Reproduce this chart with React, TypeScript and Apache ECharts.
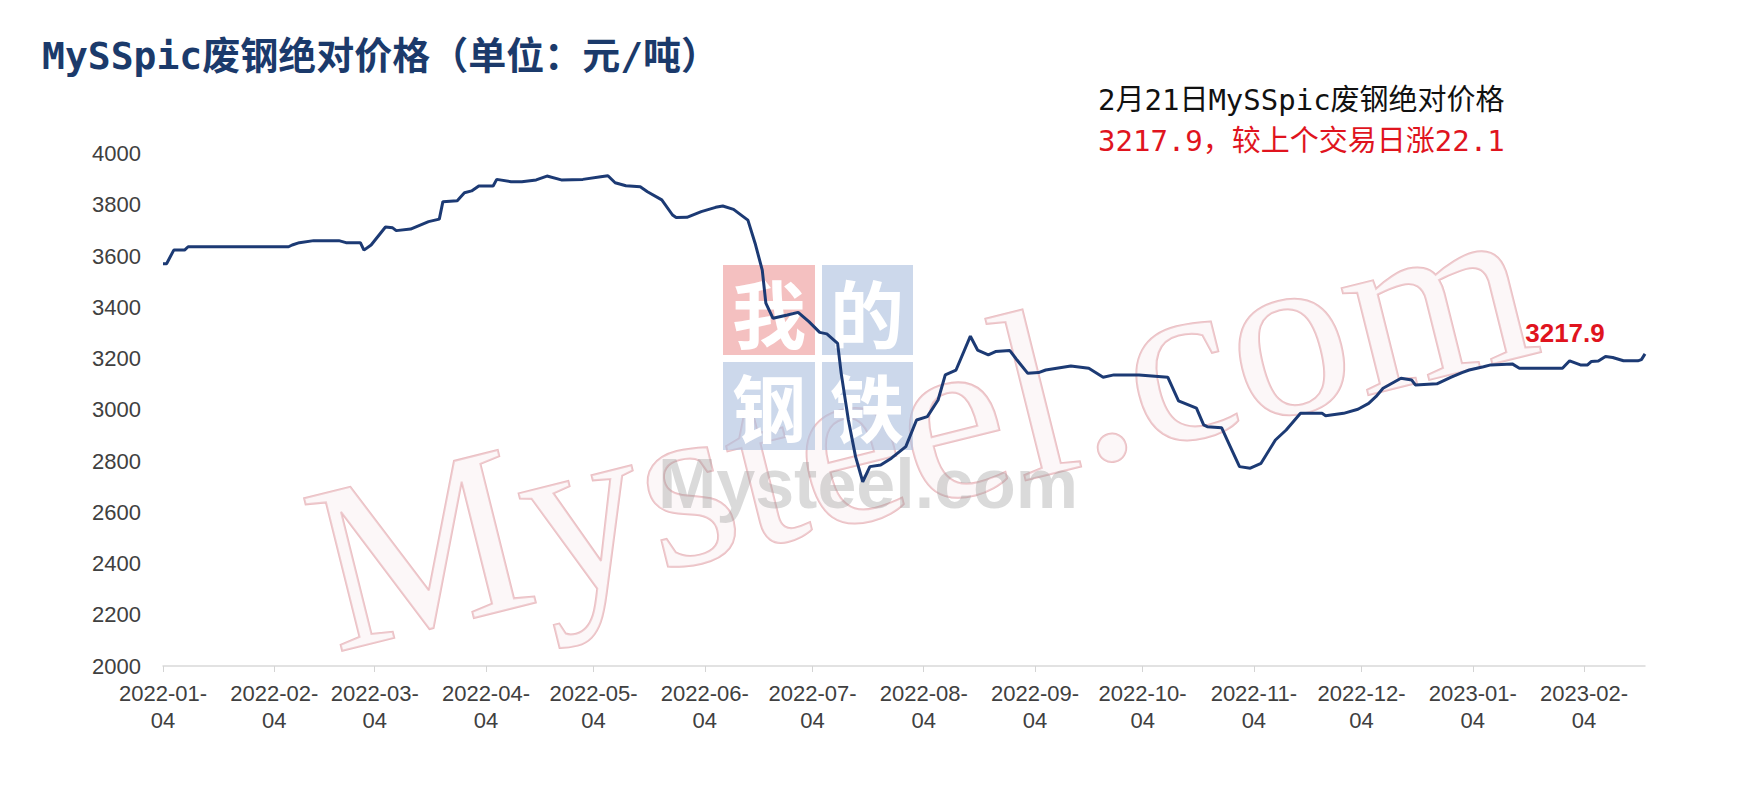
import React, { useEffect, useRef } from "react";
import * as echarts from "echarts";

// ---- data ----
const titleText = "MySSpic废钢绝对价格（单位：元/吨）";
const noteLine1 = "2月21日MySSpic废钢绝对价格";
const noteLine2 = "3217.9，较上个交易日涨22.1";
const lastLabel = "3217.9";

const axisStart = "2022-01-04";
const axisEnd = "2023-02-21";

const yMin = 2000;
const yMax = 4000;
const yStep = 200;

const pointDates = [
  "2022-01-04", "2022-01-05", "2022-01-07", "2022-01-10", "2022-01-11", "2022-02-08", "2022-02-09", "2022-02-11",
  "2022-02-15", "2022-02-22", "2022-02-24", "2022-02-28", "2022-03-01", "2022-03-03", "2022-03-07", "2022-03-09",
  "2022-03-10", "2022-03-14", "2022-03-16", "2022-03-19", "2022-03-22", "2022-03-23", "2022-03-27", "2022-03-29",
  "2022-03-31", "2022-04-02", "2022-04-06", "2022-04-07", "2022-04-11", "2022-04-14", "2022-04-18", "2022-04-21",
  "2022-04-25", "2022-05-01", "2022-05-06", "2022-05-08", "2022-05-10", "2022-05-13", "2022-05-17", "2022-05-19",
  "2022-05-23", "2022-05-26", "2022-05-27", "2022-05-30", "2022-06-03", "2022-06-07", "2022-06-09", "2022-06-12",
  "2022-06-16", "2022-06-18", "2022-06-20", "2022-06-21", "2022-06-23", "2022-06-27", "2022-06-30", "2022-07-03",
  "2022-07-06", "2022-07-08", "2022-07-11", "2022-07-12", "2022-07-14", "2022-07-16", "2022-07-18", "2022-07-20",
  "2022-07-23", "2022-07-26", "2022-07-30", "2022-08-02", "2022-08-05", "2022-08-08", "2022-08-10", "2022-08-13",
  "2022-08-17", "2022-08-19", "2022-08-22", "2022-08-24", "2022-08-28", "2022-08-30", "2022-09-02", "2022-09-05",
  "2022-09-07", "2022-09-14", "2022-09-19", "2022-09-23", "2022-09-26", "2022-10-03", "2022-10-11", "2022-10-14",
  "2022-10-19", "2022-10-21", "2022-10-22", "2022-10-26", "2022-10-28", "2022-10-31", "2022-11-03", "2022-11-06",
  "2022-11-10", "2022-11-13", "2022-11-17", "2022-11-23", "2022-11-24", "2022-11-29", "2022-12-03", "2022-12-06",
  "2022-12-08", "2022-12-10", "2022-12-15", "2022-12-18", "2022-12-19", "2022-12-25", "2022-12-29", "2023-01-01",
  "2023-01-03", "2023-01-07", "2023-01-09", "2023-01-15", "2023-01-17", "2023-01-29", "2023-01-31", "2023-02-03",
  "2023-02-05", "2023-02-06", "2023-02-08", "2023-02-10", "2023-02-12", "2023-02-15", "2023-02-19", "2023-02-20",
  "2023-02-21",
];

const pointValues = [
  3570, 3570, 3623, 3623, 3636, 3636, 3643, 3652,
  3660, 3660, 3652, 3652, 3623, 3643, 3713, 3710,
  3699, 3705, 3717, 3734, 3744, 3812, 3816, 3847,
  3854, 3873, 3873, 3899, 3890, 3890, 3897, 3912,
  3897, 3899, 3909, 3913, 3886, 3874, 3870, 3851,
  3819, 3760, 3750, 3751, 3773, 3790, 3795, 3782,
  3740, 3650, 3545, 3416, 3357, 3370, 3380, 3344,
  3302, 3296, 3259, 3142, 2960, 2817, 2719, 2778,
  2784, 2811, 2856, 2960, 2973, 3038, 3136, 3155,
  3287, 3233, 3214, 3227, 3231, 3194, 3142, 3145,
  3155, 3171, 3162, 3127, 3136, 3136, 3127, 3035,
  3006, 2941, 2934, 2930, 2869, 2778, 2772, 2791,
  2882, 2921, 2986, 2986, 2977, 2986, 3002, 3025,
  3051, 3084, 3123, 3116, 3097, 3101, 3127, 3145,
  3155, 3168, 3175, 3179, 3162, 3162, 3191, 3175,
  3175, 3188, 3190, 3208, 3204, 3191, 3191, 3195.8,
  3217.9,
];

function buildCategories(start: string, end: string): string[] {
  const out: string[] = [];
  const s = Date.parse(start + "T00:00:00Z");
  const e = Date.parse(end + "T00:00:00Z");
  for (let t = s; t <= e; t += 86400000) {
    out.push(new Date(t).toISOString().slice(0, 10));
  }
  return out;
}

const categories = buildCategories(axisStart, axisEnd);

export default function App() {
  const ref = useRef<HTMLDivElement>(null);

  useEffect(() => {
    if (!ref.current) return;
    const chart = echarts.init(ref.current, null, { renderer: "svg" });

    const seriesData = pointDates.map((d, i) => [categories.indexOf(d), pointValues[i]]);
    const lastIdx = categories.indexOf(pointDates[pointDates.length - 1]);
    const lastVal = pointValues[pointValues.length - 1];

    const isLabelDay = (_i: number, v: string) => v.slice(8, 10) === "04";
    const deg = Math.PI / 180;
    const cjkMono = "'DejaVu Sans Mono', 'Noto Sans CJK SC', monospace";

    const option: any = {
      animation: false,
      backgroundColor: "#ffffff",
      grid: { left: 163, right: 100, top: 153.5, bottom: 134, containLabel: false },
      xAxis: {
        type: "category",
        data: categories,
        boundaryGap: false,
        axisLine: { show: true, lineStyle: { color: "#d9d9d9", width: 1.5 } },
        axisTick: {
          show: true,
          interval: isLabelDay,
          length: 6,
          lineStyle: { color: "#d4d4d4", width: 1 },
        },
        axisLabel: {
          interval: isLabelDay,
          formatter: (v: string) => v.slice(0, 8) + "\n" + v.slice(8),
          fontSize: 22,
          lineHeight: 27,
          color: "#404040",
          fontFamily: "Liberation Sans, Arial, sans-serif",
          margin: 14,
        },
        splitLine: { show: false },
      },
      yAxis: {
        type: "value",
        min: yMin,
        max: yMax,
        interval: yStep,
        axisLine: { show: false },
        axisTick: { show: false },
        splitLine: { show: false },
        axisLabel: {
          formatter: (v: number) => String(v),
          fontSize: 22,
          color: "#404040",
          fontFamily: "Liberation Sans, Arial, sans-serif",
          margin: 22,
        },
      },
      graphic: [
        // watermark: big outlined text
        {
          type: "text",
          silent: true,
          z: 0,
          x: 316,
          y: 574,
          rotation: 14 * deg,
          style: {
            text: "Mysteel.com",
            fontSize: 240,
            fontFamily: "Liberation Serif, serif",
            fill: "rgba(246,232,234,0.35)",
            stroke: "#ebbfc3",
            lineWidth: 2,
            align: "left",
            verticalAlign: "middle",
          },
        },
        // logo blocks
        { type: "rect", silent: true, z: 0, shape: { x: 723, y: 265, width: 92, height: 90 }, style: { fill: "rgba(236,150,150,0.6)" } },
        { type: "rect", silent: true, z: 0, shape: { x: 822, y: 265, width: 91, height: 90 }, style: { fill: "rgba(170,190,222,0.6)" } },
        { type: "rect", silent: true, z: 0, shape: { x: 723, y: 362, width: 92, height: 88 }, style: { fill: "rgba(170,190,222,0.6)" } },
        { type: "rect", silent: true, z: 0, shape: { x: 822, y: 362, width: 91, height: 88 }, style: { fill: "rgba(170,190,222,0.6)" } },
        { type: "text", silent: true, z: 1, x: 769, y: 310, style: { text: "我", fontSize: 74, fontWeight: "bold", fontFamily: "Noto Sans CJK SC", fill: "#ffffff", align: "center", verticalAlign: "middle" } },
        { type: "text", silent: true, z: 1, x: 867, y: 310, style: { text: "的", fontSize: 74, fontWeight: "bold", fontFamily: "Noto Sans CJK SC", fill: "#ffffff", align: "center", verticalAlign: "middle" } },
        { type: "text", silent: true, z: 1, x: 769, y: 404, style: { text: "钢", fontSize: 74, fontWeight: "bold", fontFamily: "Noto Sans CJK SC", fill: "#ffffff", align: "center", verticalAlign: "middle" } },
        { type: "text", silent: true, z: 1, x: 867, y: 404, style: { text: "铁", fontSize: 74, fontWeight: "bold", fontFamily: "Noto Sans CJK SC", fill: "#ffffff", align: "center", verticalAlign: "middle" } },
        // small grey watermark text
        {
          type: "text",
          silent: true,
          z: 1,
          x: 868,
          y: 484,
          style: {
            text: "Mysteel.com",
            fontSize: 70,
            fontWeight: "bold",
            fontFamily: "Liberation Sans, Arial, sans-serif",
            fill: "rgba(150,150,150,0.35)",
            align: "center",
            verticalAlign: "middle",
          },
        },
        // title
        {
          type: "text",
          z: 10,
          x: 42,
          y: 56,
          style: {
            text: titleText,
            fontSize: 38,
            fontWeight: "bold",
            fontFamily: cjkMono,
            fill: "#1b3a6b",
            align: "left",
            verticalAlign: "middle",
          },
        },
        // note lines
        {
          type: "text",
          z: 10,
          x: 1098,
          y: 100,
          style: {
            text: noteLine1,
            fontSize: 29,
            fontFamily: cjkMono,
            fill: "#111111",
            align: "left",
            verticalAlign: "middle",
          },
        },
        {
          type: "text",
          z: 10,
          x: 1098,
          y: 141,
          style: {
            text: noteLine2,
            fontSize: 29,
            fontFamily: cjkMono,
            fill: "#e0141e",
            align: "left",
            verticalAlign: "middle",
          },
        },
      ],
      series: [
        {
          type: "line",
          z: 5,
          data: seriesData,
          showSymbol: false,
          symbol: "none",
          lineStyle: { color: "#1c3a74", width: 3 },
          markPoint: {
            silent: true,
            symbol: "circle",
            symbolSize: 1,
            itemStyle: { color: "rgba(0,0,0,0)" },
            label: {
              show: true,
              position: "inside",
              offset: [-80, -21],
              formatter: lastLabel,
              color: "#e0141e",
              fontSize: 26,
              fontWeight: "bold",
              fontFamily: "Liberation Sans, Arial, sans-serif",
            },
            data: [{ coord: [lastIdx, lastVal] }],
          },
        },
      ],
    };

    chart.setOption(option);
    return () => chart.dispose();
  }, []);

  return (
    <div
      ref={ref}
      style={{ position: "absolute", left: 0, top: 0, width: 1745, height: 800 }}
    />
  );
}
